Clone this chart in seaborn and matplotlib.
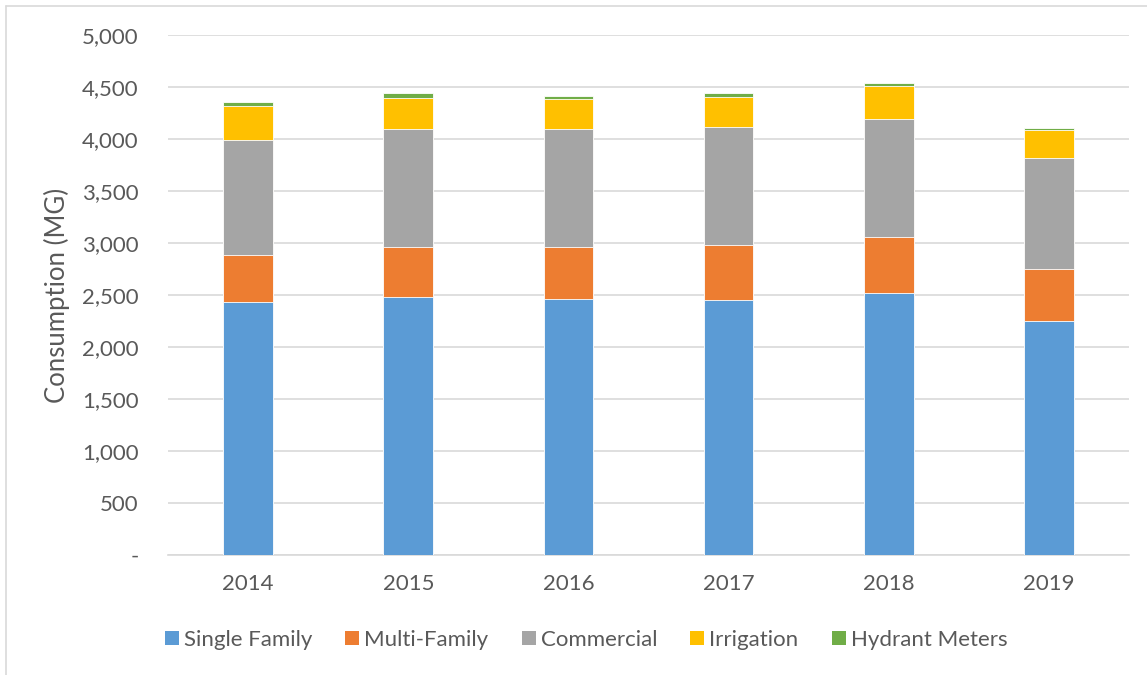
import matplotlib
matplotlib.use("Agg")
import matplotlib.pyplot as plt
from matplotlib.lines import Line2D
from matplotlib.patches import Patch
import seaborn as sns
import pandas as pd
import numpy as np

years = ["2014", "2015", "2016", "2017", "2018", "2019"]
single_family = [2433, 2484, 2461, 2452, 2522, 2250]
multi_family = [452, 478, 497, 525, 532, 500]
commercial = [1108, 1137, 1141, 1135, 1135, 1064]
irrigation = [327, 298, 286, 295, 320, 273]
hydrant = [32, 42, 28, 32, 26, 22]

series_names = ["Single Family", "Multi-Family", "Commercial", "Irrigation", "Hydrant Meters"]
series_vals = [single_family, multi_family, commercial, irrigation, hydrant]
colors = ["#5B9BD5", "#ED7D31", "#A5A5A5", "#FFC000", "#70AD47"]
yticks = [0, 500, 1000, 1500, 2000, 2500, 3000, 3500, 4000, 4500, 5000]
ytick_labels = ["-", "500", "1,000", "1,500", "2,000", "2,500", "3,000", "3,500", "4,000", "4,500", "5,000"]

sns.set_theme(style="white")
plt.rcParams["font.family"] = ["Lato", "DejaVu Sans"]
text_color = "#595959"

fig = plt.figure(figsize=(11.47, 6.75), dpi=100)
ax = fig.add_axes([168 / 1147, 1 - 555 / 675, (1129 - 168) / 1147, 520 / 675])

cum = np.cumsum(np.array(series_vals), axis=0)
# draw from the top segment down so lower segments overlay
for i in range(len(series_names) - 1, -1, -1):
    df = pd.DataFrame({"Year": years, "Value": cum[i]})
    sns.barplot(data=df, x="Year", y="Value", color=colors[i], width=0.31,
                saturation=1, ax=ax, edgecolor="white", linewidth=0.6, zorder=3)

ax.set_ylim(0, 5000)
ax.set_xlim(-0.5, 5.5)
ax.set_yticks(yticks)
ax.set_yticklabels(ytick_labels)
ax.yaxis.grid(True, color="#D9D9D9", linewidth=1.2, zorder=0)
ax.set_axisbelow(True)
for s in ["top", "right", "left"]:
    ax.spines[s].set_visible(False)
ax.spines["bottom"].set_color("#D9D9D9")
ax.spines["bottom"].set_linewidth(1.2)
ax.tick_params(axis="y", length=0, pad=21, labelsize=16, labelcolor=text_color)
ax.tick_params(axis="x", length=0, pad=14, labelsize=16, labelcolor=text_color)
ax.set_xlabel("")
ax.set_ylabel("Consumption (MG)", fontsize=18.5, color=text_color)
ax.yaxis.set_label_coords((70 - 168) / 961, 0.5)

handles = [Patch(facecolor=c, edgecolor="none") for c in colors]
fig.legend(handles, series_names, loc="center", bbox_to_anchor=(586 / 1147, 1 - 640 / 675),
           ncol=5, frameon=False, fontsize=16, handlelength=0.63, handleheight=0.63,
           handletextpad=0.22, columnspacing=1.5, labelcolor=text_color)

# chart-area border (left and top visible)
fig.add_artist(Line2D([6 / 1147, 6 / 1147], [0, 1 - 6 / 675], transform=fig.transFigure,
                      color="#D9D9D9", linewidth=1.2))
fig.add_artist(Line2D([6 / 1147, 1], [1 - 6 / 675, 1 - 6 / 675], transform=fig.transFigure,
                      color="#D9D9D9", linewidth=1.2))

fig.savefig("out.png", dpi=100, facecolor="white")
